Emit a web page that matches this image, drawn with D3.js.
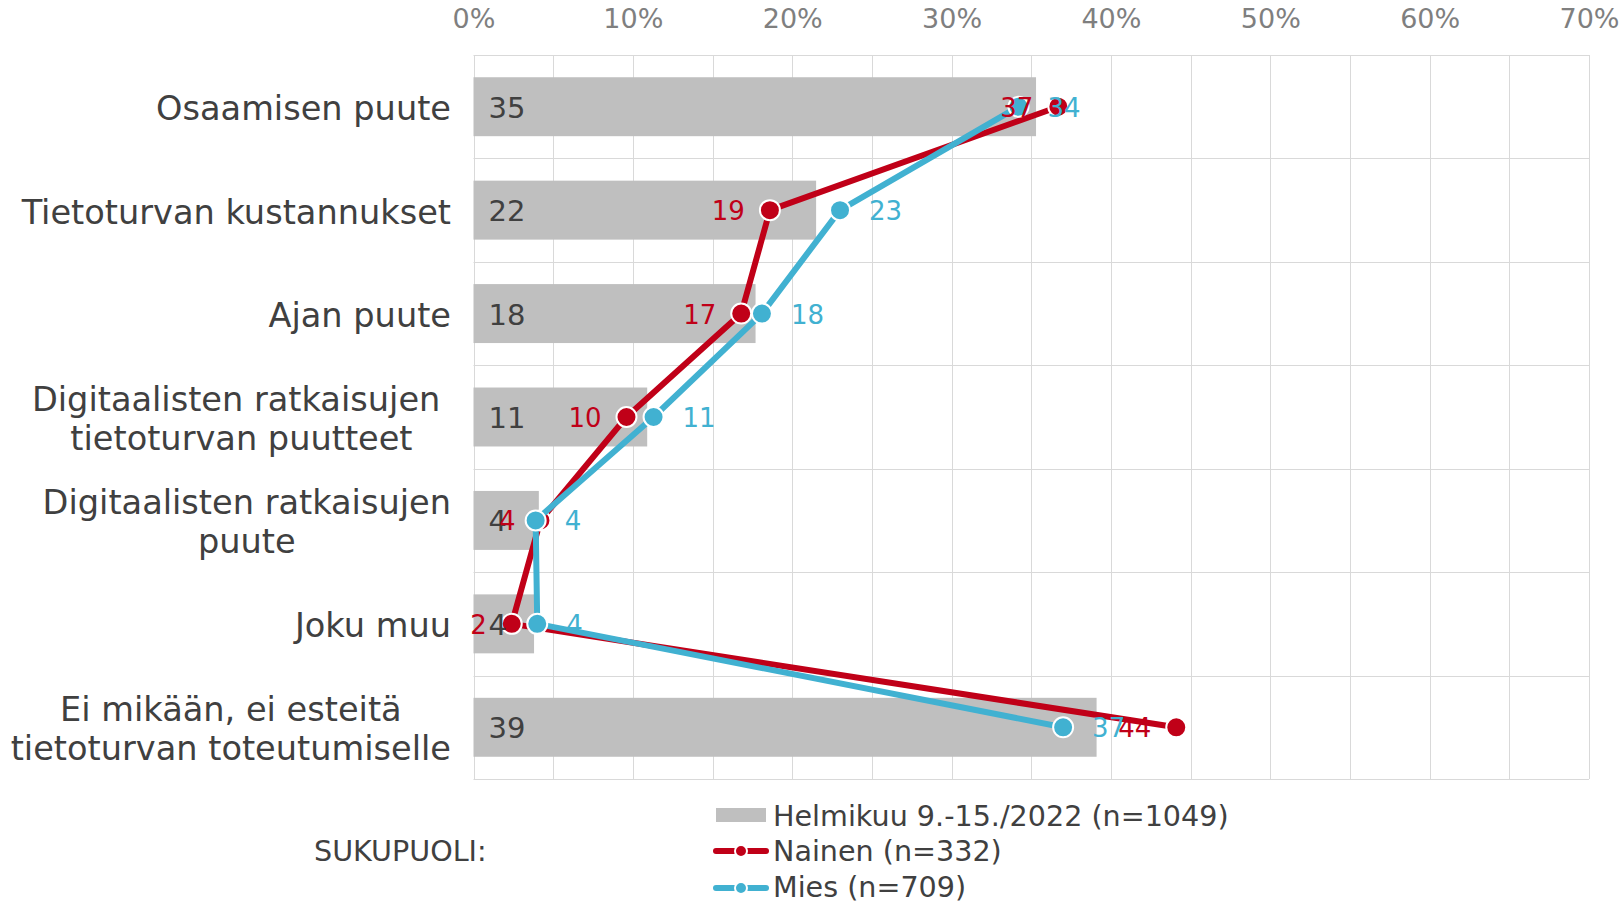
<!DOCTYPE html>
<html>
<head>
<meta charset="utf-8">
<script src="https://cdn.jsdelivr.net/npm/d3@7"></script>
<style>
  body { margin: 0; background: #fff; }
  svg { display: block; font-family: "DejaVu Sans", Verdana, sans-serif; }
</style>
</head>
<body>
<div class="svg"></div>
<script>
// data (percent)
var categories = [
  ["Osaamisen puute"],
  ["Tietoturvan kustannukset"],
  ["Ajan puute"],
  ["Digitaalisten ratkaisujen ", "tietoturvan puutteet"],
  ["Digitaalisten ratkaisujen", "puute"],
  ["Joku muu"],
  ["Ei mikään, ei esteitä", "tietoturvan toteutumiselle"]
];
var totalValues = [35.3, 21.5, 17.7, 10.9, 4.1, 3.8, 39.1];
var nainenValues = [36.7, 18.6, 16.8, 9.6, 4.2, 2.4, 44.1];
var miesValues = [34.2, 23.0, 18.1, 11.3, 3.9, 4.0, 37.0];
var xTicks = [0, 10, 20, 30, 40, 50, 60, 70];
var legendTitle = "SUKUPUOLI:";
var seriesNames = ["Helmikuu 9.-15./2022 (n=1049)", "Nainen (n=332)", "Mies (n=709)"];

var w = 1622, h = 904;
var plotLeft = 473.5, plotRight = 1589, plotTop = 55, plotBottom = 779;
var barColor = "#bfbfbf", red = "#c00018", blue = "#41b1d1", textColor = "#404040";

var svg = d3.select("div.svg").append("svg")
  .attr("width", w)
  .attr("height", h);

var x = d3.scaleLinear().domain([0, 70]).range([plotLeft, plotRight]);
var y = d3.scaleBand().domain(d3.range(categories.length)).range([plotTop, plotBottom]).paddingInner(0.43).paddingOuter(0.215);
var yc = function (i) { return y(i) + y.bandwidth() / 2; };

// grid
var grid = svg.append("g").attr("stroke", "#d9d9d9").attr("stroke-width", 1);
grid.selectAll("line.v")
  .data(d3.range(0, 71, 5))
  .enter().append("line")
  .attr("class", "v")
  .attr("x1", function (d) { return Math.round(x(d)) + 0.5; })
  .attr("x2", function (d) { return Math.round(x(d)) + 0.5; })
  .attr("y1", plotTop).attr("y2", plotBottom);
grid.selectAll("line.h")
  .data(d3.range(categories.length + 1))
  .enter().append("line")
  .attr("class", "h")
  .attr("x1", plotLeft).attr("x2", plotRight)
  .attr("y1", function (d) { return Math.round(plotTop + d * y.step()) + 0.5; })
  .attr("y2", function (d) { return Math.round(plotTop + d * y.step()) + 0.5; });

// top axis
var axis = svg.append("g")
  .attr("transform", "translate(0,19)")
  .call(d3.axisTop(x).tickValues(xTicks).tickSize(0).tickPadding(0).tickFormat(function (d) { return d + "%"; }));
axis.select(".domain").remove();
axis.selectAll("text")
  .attr("dy", "0.35em")
  .style("font-family", "DejaVu Sans, Verdana, sans-serif")
  .style("font-size", "27px")
  .attr("fill", "#7f7f7f");

// bars
svg.selectAll("rect.bar")
  .data(totalValues)
  .enter().append("rect")
  .attr("class", "bar")
  .attr("x", x(0))
  .attr("y", function (d, i) { return y(i); })
  .attr("width", function (d) { return x(d) - x(0); })
  .attr("height", y.bandwidth())
  .attr("fill", barColor);

// category labels
var catG = svg.append("g").attr("fill", textColor).style("font-size", "33.6px");
categories.forEach(function (lines, i) {
  var g = catG.append("g");
  var texts = g.selectAll("text").data(lines).enter().append("text")
    .style("white-space", "pre")
    .attr("y", function (d, j) { return yc(i) + 13.5 + (j - (lines.length - 1) / 2) * 39; })
    .text(function (d) { return d; });
  var maxW = 0;
  texts.each(function () { maxW = Math.max(maxW, this.getComputedTextLength()); });
  texts.attr("text-anchor", "middle").attr("x", 451 - maxW / 2);
});

// lines
var line = d3.line()
  .x(function (d) { return x(d); })
  .y(function (d, i) { return yc(i); });

[[nainenValues, red], [miesValues, blue]].forEach(function (s) {
  svg.append("path")
    .datum(s[0])
    .attr("d", line)
    .attr("fill", "none")
    .attr("stroke", s[1])
    .attr("stroke-width", 6)
    .attr("stroke-linejoin", "round");
  svg.append("g").selectAll("circle")
    .data(s[0])
    .enter().append("circle")
    .attr("cx", function (d) { return x(d); })
    .attr("cy", function (d, i) { return yc(i); })
    .attr("r", 10)
    .attr("fill", s[1])
    .attr("stroke", "#fff")
    .attr("stroke-width", 2);
});

// labels
svg.append("g").selectAll("text")
  .data(totalValues)
  .enter().append("text")
  .attr("x", x(0) + 15)
  .attr("y", function (d, i) { return yc(i) + 11; })
  .attr("fill", textColor)
  .style("font-size", "29px")
  .text(function (d) { return Math.round(d); });

svg.append("g").selectAll("text")
  .data(nainenValues)
  .enter().append("text")
  .attr("x", function (d) { return x(d) - 25; })
  .attr("y", function (d, i) { return yc(i) + 10; })
  .attr("text-anchor", "end")
  .attr("fill", red)
  .style("font-size", "26px")
  .text(function (d) { return Math.round(d); });

svg.append("g").selectAll("text")
  .data(miesValues)
  .enter().append("text")
  .attr("x", function (d) { return x(d) + 29; })
  .attr("y", function (d, i) { return yc(i) + 10; })
  .attr("fill", blue)
  .style("font-size", "26px")
  .text(function (d) { return Math.round(d); });

// legend
var lg = svg.append("g").attr("fill", textColor).style("font-size", "28.6px");
lg.append("text").attr("x", 314).attr("y", 861).text(legendTitle);
lg.append("rect").attr("x", 716).attr("y", 808).attr("width", 50).attr("height", 14).attr("fill", barColor);
[[851, red], [888, blue]].forEach(function (m) {
  lg.append("line").attr("x1", 716).attr("x2", 766).attr("y1", m[0]).attr("y2", m[0])
    .attr("stroke", m[1]).attr("stroke-width", 6).attr("stroke-linecap", "round");
  lg.append("circle").attr("cx", 741).attr("cy", m[0]).attr("r", 6)
    .attr("fill", m[1]).attr("stroke", "#fff").attr("stroke-width", 2);
});
lg.selectAll("text.item")
  .data(seriesNames)
  .enter().append("text")
  .attr("class", "item")
  .attr("x", 773)
  .attr("y", function (d, i) { return [826, 861, 897][i]; })
  .text(function (d) { return d; });
</script>
</body>
</html>
